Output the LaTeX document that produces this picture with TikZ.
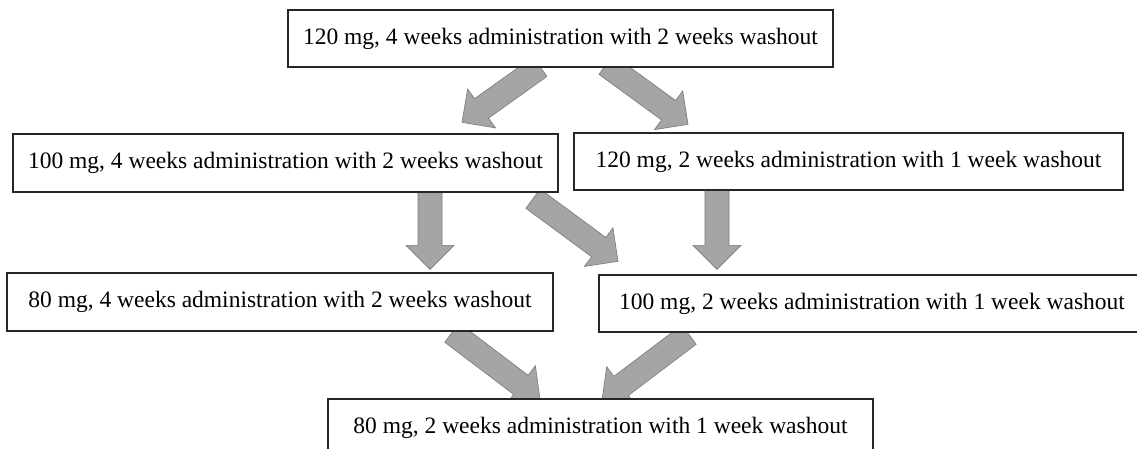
\documentclass[tikz,border=0pt]{standalone}
\usepackage{fontspec}
\setmainfont{Liberation Serif}
\usetikzlibrary{calc}
\pgfdeclarelayer{bg}
\pgfsetlayers{bg,main}
\definecolor{arrfill}{RGB}{165,165,165}
\definecolor{arredge}{RGB}{120,120,120}
\tikzset{
  box/.style={draw=black!85, line width=1.3pt, fill=white, inner sep=0pt,
    minimum height=57pt, font=\fontsize{23.5}{26}\selectfont},
  blk/.style={fill=arrfill, draw=arredge, line width=0.6pt, line join=miter}
}
\newcommand\blockarr[2]{%
  \coordinate (S) at (#1);
  \coordinate (T) at (#2);
  \coordinate (N) at ($(T)!24pt!(S)$);
  \filldraw[blk] ($(S)!12pt!90:(T)$) -- ($(N)!12pt!-90:(S)$) -- ($(N)!24pt!-90:(S)$)
    -- (T) -- ($(N)!24pt!90:(S)$) -- ($(N)!12pt!90:(S)$) -- ($(S)!12pt!-90:(T)$) -- cycle;
}
\begin{document}
\begin{tikzpicture}[x=1pt,y=-1pt]
\clip (0,0) rectangle (1137,448);
\node[box, minimum width=545pt] (b1) at (560.5,38.5) {120 mg, 4 weeks administration with 2 weeks washout};
\node[box, minimum width=545pt, minimum height=58pt] (b2) at (285.5,163) {100 mg, 4 weeks administration with 2 weeks washout};
\node[box, minimum width=549pt] (b3) at (848.5,161.5) {120 mg, 2 weeks administration with 1 week washout};
\node[box, minimum width=546pt, minimum height=58pt] (b4) at (280,302) {80 mg, 4 weeks administration with 2 weeks washout};
\node[box, minimum width=546pt] (b5) at (872,303.5) {100 mg, 2 weeks administration with 1 week washout};
\node[box, minimum width=545pt] (b6) at (600.5,427.5) {80 mg, 2 weeks administration with 1 week washout};
\begin{pgfonlayer}{bg}
  \fill[white] (0,0) rectangle (1137,448);
  \blockarr{$(b1.south)+(-20.5,-1)$}{$(b2.north)+(176.5,-11)$}
  \blockarr{$(b1.south)+(45.5,-3)$}{$(b3.north)+(-160.5,-8)$}
  \blockarr{$(b2.south)+(144.5,-2)$}{$(b4.north)+(150,-3)$}
  \blockarr{$(b2.south)+(247.5,6)$}{$(b5.north)+(-254,-13)$}
  \blockarr{$(b3.south)+(-131.5,-2)$}{$(b5.north)+(-155,-5)$}
  \blockarr{$(b4.south)+(172,1)$}{$(b6.north)+(-60.5,1)$}
  \blockarr{$(b5.south)+(-183,2)$}{$(b6.north)+(1.5,2)$}
\end{pgfonlayer}
\end{tikzpicture}
\end{document}
